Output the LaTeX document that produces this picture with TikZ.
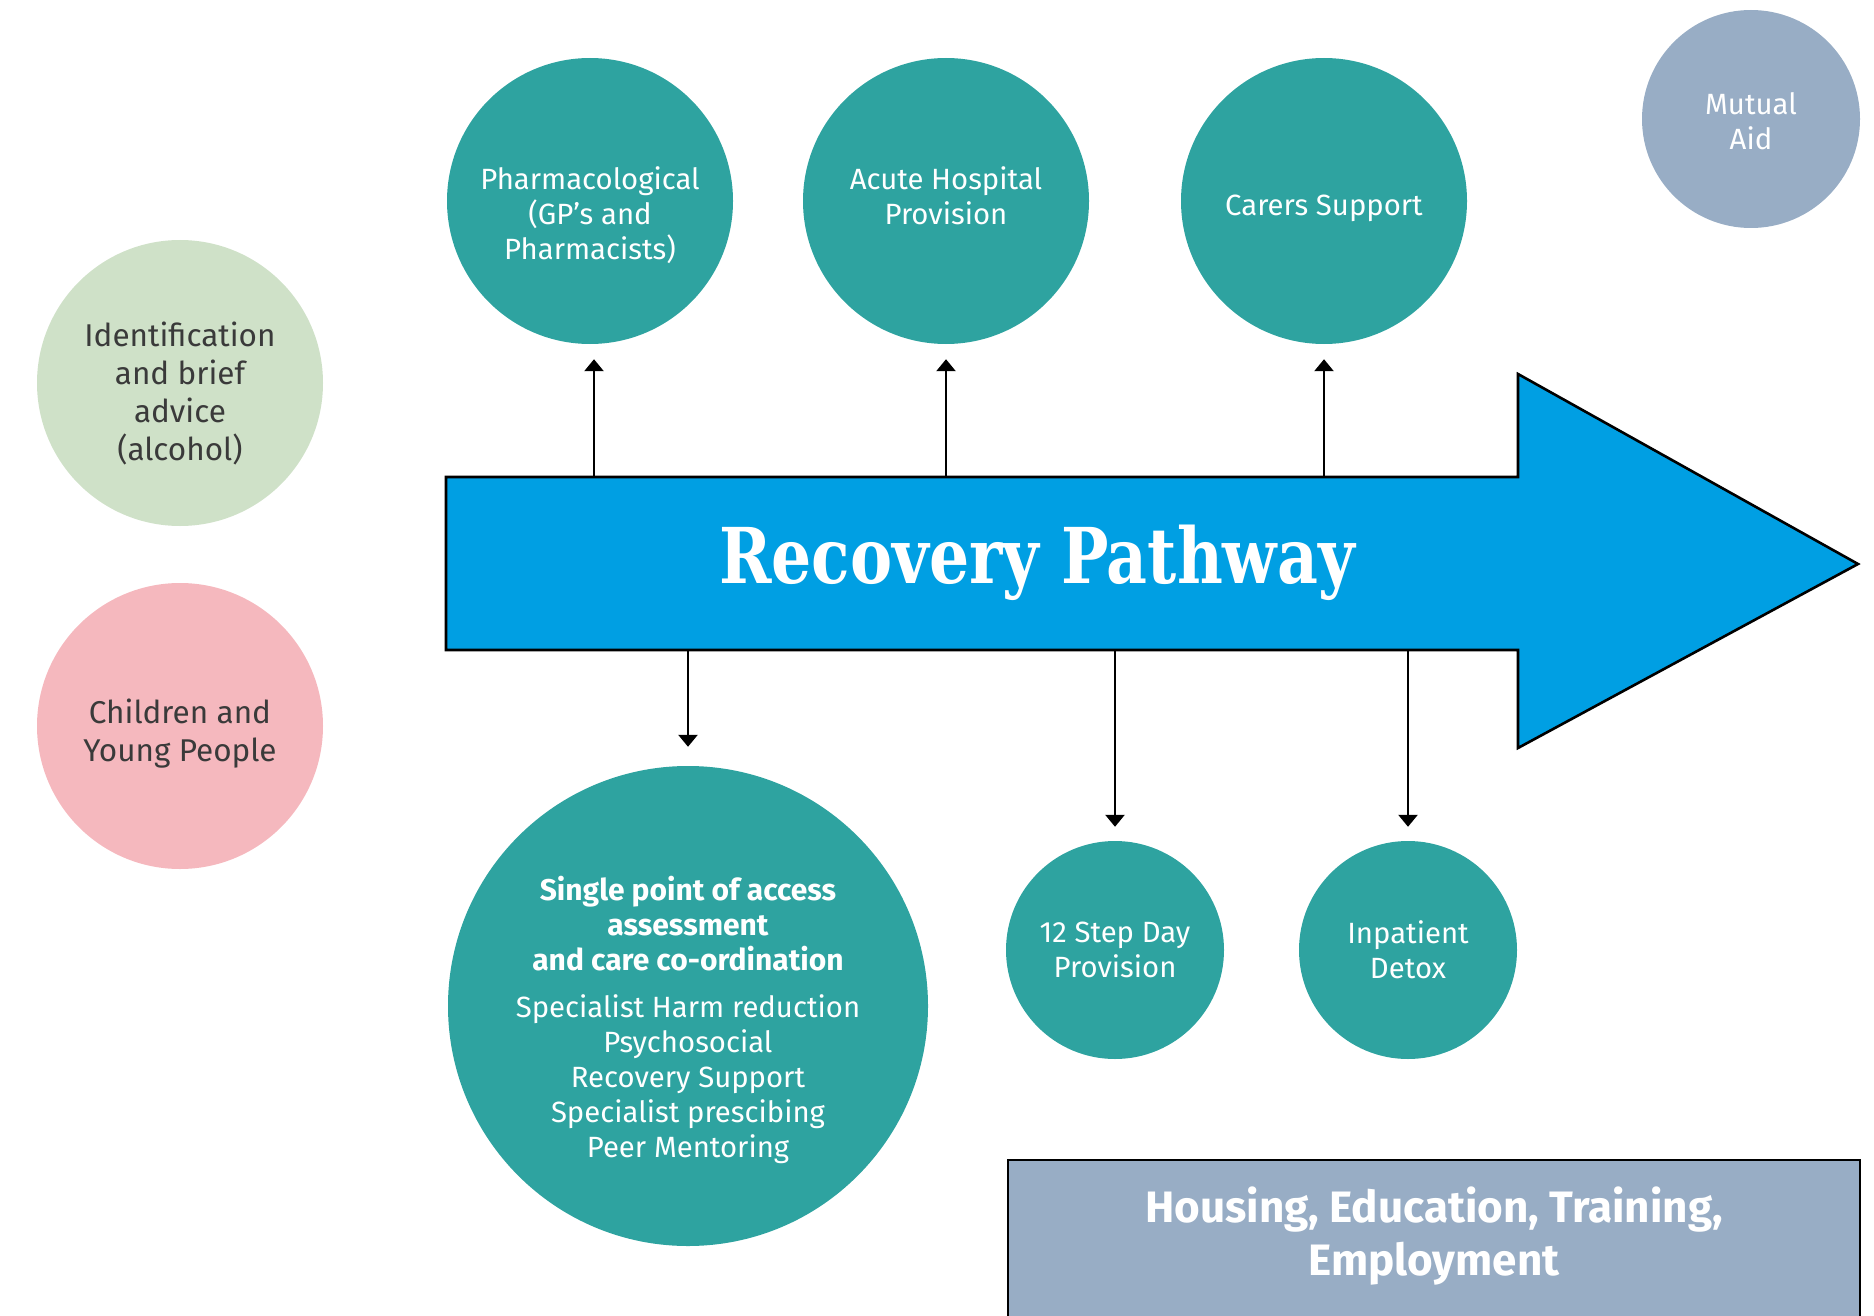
\documentclass[tikz,border=0pt]{standalone}
\usepackage{fontspec}
\setmainfont{Fira Sans}
\newfontfamily\slabfont{DejaVu Serif}
\usetikzlibrary{arrows.meta}
\definecolor{teal}{HTML}{2EA3A0}
\definecolor{pathblue}{HTML}{009FE3}
\definecolor{slate}{HTML}{98ADC5}
\definecolor{sage}{HTML}{CFE1C8}
\definecolor{rose}{HTML}{F5B8BE}
\definecolor{darktext}{HTML}{3A3A3A}
\begin{document}
\begin{tikzpicture}[x=1pt,y=-1pt,
  bubble/.style={circle, inner sep=0pt},
  big/.style={minimum size=286pt},
  small/.style={minimum size=218pt},
  wtext/.style={align=center, text=white, font=\fontsize{29.3}{35}\selectfont},
  dtext/.style={align=center, text=darktext, font=\fontsize{31.5}{38}\selectfont},
  tealbubble/.style={bubble, fill=teal},
  conn/.style={line width=2.6pt, -{Triangle[width=19pt,length=12pt]}, shorten >=15pt}]
\useasboundingbox (0,0) rectangle (1874,1316);
\clip (0,0) rectangle (1874,1316);

% main arrow
\draw[fill=pathblue, line width=2.6pt, line join=miter]
  (446,477) -- (1518,477) -- (1518,374) -- (1858,564) -- (1518,748)
  -- (1518,650) -- (446,650) -- cycle;
\coordinate (bodytop) at (446,477);
\coordinate (bodybot) at (446,650);
\node[text=white, anchor=base, inner sep=0pt, font=\slabfont\bfseries\fontsize{77}{90}\selectfont] (title) at (1037,583)
  {\scalebox{0.82}[1]{Recovery Pathway}};

% services above the pathway
\node[tealbubble, big, label={[wtext, yshift=-14pt]center:Pharmacological\\(GP’s and\\Pharmacists)}] (pharm) at (590,201) {};
\node[tealbubble, big, label={[wtext, yshift=5pt]center:Acute Hospital\\Provision}] (acute) at (946,201) {};
\node[tealbubble, big, label={[wtext, yshift=-7pt]center:Carers Support}] (carers) at (1324,201) {};
\node[bubble, small, fill=slate, label={[wtext, yshift=-2pt]center:Mutual\\Aid}] (mutual) at (1751,119) {};

% services to the left
\node[bubble, big, fill=sage, label={[dtext, yshift=-10pt]center:Identification\\and brief\\advice\\(alcohol)}] (ident) at (180,383) {};
\node[bubble, big, fill=rose, label={[dtext, yshift=-8pt]center:Children and\\Young People}] (cyp) at (180,726) {};

% services below the pathway
\node[tealbubble, minimum size=480pt, label={[wtext, yshift=-14pt]center:%
  \fontsize{30}{35.5}\selectfont\bfseries Single point of access\\\fontsize{30}{35.5}\selectfont\bfseries assessment\\\fontsize{30}{35.5}\selectfont\bfseries and care co-ordination\\[12pt]
   Specialist Harm reduction\\Psychosocial\\Recovery Support\\Specialist prescibing\\Peer Mentoring}] (spa) at (688,1006) {};
\node[tealbubble, small, label={[wtext]center:12 Step Day\\Provision}] (step) at (1115,950) {};
\node[tealbubble, small, label={[wtext]center:Inpatient\\Detox}] (detox) at (1408,950) {};

% housing box
\draw[fill=slate, line width=2.6pt] (1008,1160) rectangle (1860,1340);
\node[text=white, align=center, font=\bfseries\fontsize{44}{53}\selectfont] (heet) at (1434,1236)
  {Housing, Education, Training,\\Employment};

% connectors
\draw[conn] ([xshift=4pt]bodytop -| pharm) -- ([xshift=4pt]pharm.south);
\draw[conn] (bodytop -| acute) -- (acute.south);
\draw[conn] (bodytop -| carers) -- (carers.south);
\draw[conn, shorten >=19pt] (bodybot -| spa) -- (spa.north);
\draw[conn, shorten >=14pt] (bodybot -| step) -- (step.north);
\draw[conn, shorten >=14pt] (bodybot -| detox) -- (detox.north);
\end{tikzpicture}
\end{document}
